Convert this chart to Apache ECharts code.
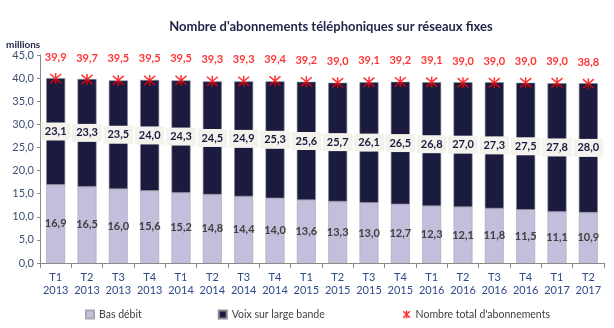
<!DOCTYPE html>
<html><head><meta charset="utf-8">
<script src="https://cdn.jsdelivr.net/npm/echarts@6/dist/echarts.min.js"></script>
<style>html,body{margin:0;padding:0;background:#fff}#c{width:614px;height:328px}</style>
</head><body><div id="c"></div>
<script>
const categories = ["T1\n2013","T2\n2013","T3\n2013","T4\n2013","T1\n2014","T2\n2014","T3\n2014","T4\n2014","T1\n2015","T2\n2015","T3\n2015","T4\n2015","T1\n2016","T2\n2016","T3\n2016","T4\n2016","T1\n2017","T2\n2017"];
const basDebit = [16.9,16.5,16.0,15.6,15.2,14.8,14.4,14.0,13.6,13.3,13.0,12.7,12.3,12.1,11.8,11.5,11.1,10.9];
const voix = [23.1,23.3,23.5,24.0,24.3,24.5,24.9,25.3,25.6,25.7,26.1,26.5,26.8,27.0,27.3,27.5,27.8,28.0];
const total = [39.9,39.7,39.5,39.5,39.5,39.3,39.3,39.4,39.2,39.0,39.1,39.2,39.1,39.0,39.0,39.0,39.0,38.8];

const FONT = "Lato, 'Open Sans', sans-serif";
const fmt = v => v.toFixed(1).replace('.', ',');
const star = 'path://M0 0L10 10M10 0L0 10M5 -1L5 11';

const chart = echarts.init(document.getElementById('c'));
chart.setOption({
  animation: false,
  textStyle: { fontFamily: FONT },
  title: {
    text: "Nombre d'abonnements téléphoniques sur réseaux fixes",
    left: 326, top: 15, textAlign: 'center',
    textStyle: { fontSize: 13, fontWeight: 'bold', color: '#1f2547', fontFamily: FONT }
  },
  graphic: [{
    type: 'text', left: 6, top: 40,
    style: { text: 'millions', fontSize: 10, fontWeight: 'bold', fill: '#1f2547', fontFamily: FONT }
  }],
  grid: { left: 40, right: 10, top: 55, bottom: 65 },
  legend: {
    left: 85, top: 308, itemGap: 76, itemWidth: 8, itemHeight: 8, padding: 0,
    textStyle: { fontSize: 10.5, color: '#404040', fontFamily: FONT },
    data: [
      { name: 'Bas débit', icon: 'rect' },
      { name: 'Voix sur large bande', icon: 'rect' },
      { name: "Nombre total d'abonnements", icon: star, itemStyle: { color: 'none', borderColor: '#ff0000', borderWidth: 1.5 } }
    ]
  },
  xAxis: {
    type: 'category', data: categories,
    axisLine: { lineStyle: { color: '#888' } },
    axisTick: { show: true, interval: 0, lineStyle: { color: '#888' } },
    axisLabel: { interval: 0, fontSize: 11, color: '#2f4a8a', lineHeight: 13, margin: 8, fontFamily: FONT }
  },
  yAxis: {
    type: 'value', min: 0, max: 45, interval: 5,
    axisLine: { show: true, lineStyle: { color: '#888' } },
    axisTick: { show: true, length: 3, lineStyle: { color: '#888' } },
    splitLine: { show: false },
    axisLabel: { fontSize: 11, color: '#3d4f73', formatter: v => fmt(v), margin: 6, fontFamily: FONT }
  },
  series: [
    {
      name: 'Bas débit', type: 'bar', stack: 's', data: basDebit, barWidth: 19,
      itemStyle: { color: '#c3bedc', borderColor: '#a8a8b4', borderWidth: 0.6 },
      label: { show: true, position: 'inside', formatter: p => fmt(p.value), fontSize: 11, fontWeight: 'bold', color: '#404040', fontFamily: FONT }
    },
    {
      name: 'Voix sur large bande', type: 'bar', stack: 's', data: voix, barWidth: 19,
      itemStyle: { color: '#1b1a3f', borderColor: '#8a8a98', borderWidth: 0.6 },
      label: { show: true, position: 'inside', formatter: p => fmt(p.value), fontSize: 11, fontWeight: 'bold', color: '#1b1a3f',
        backgroundColor: '#f3f2ec', padding: [4, 4, 3, 4], fontFamily: FONT }
    },
    {
      name: "Nombre total d'abonnements", type: 'scatter', data: total,
      symbol: star, symbolSize: 11, z: 5,
      itemStyle: { color: 'none', borderColor: '#ff0000', borderWidth: 1.5 },
      label: { show: true, position: 'top', distance: 8, formatter: p => fmt(p.value), fontSize: 11, fontWeight: 'bold', color: '#ff0000', fontFamily: FONT }
    }
  ]
});
</script></body></html>
